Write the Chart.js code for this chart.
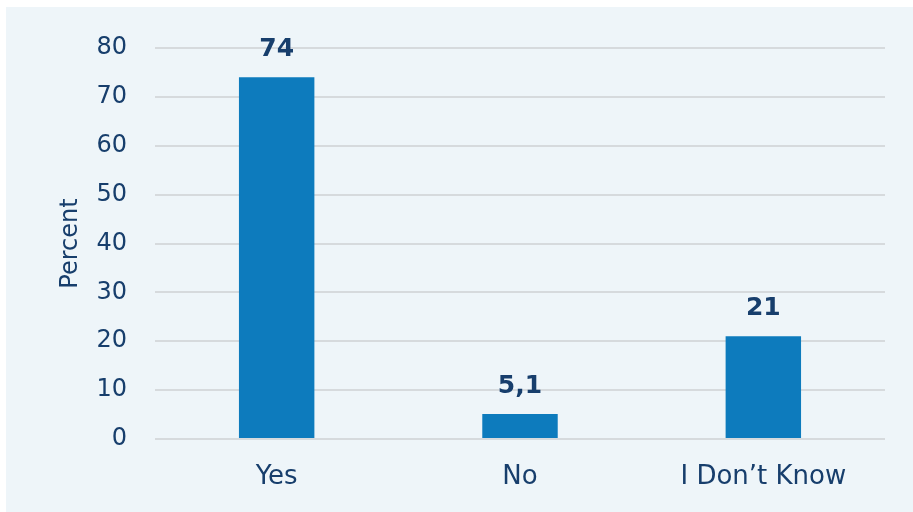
<!DOCTYPE html>
<html>
<head>
<meta charset="utf-8">
<script src="https://cdn.jsdelivr.net/npm/chart.js@4/dist/chart.umd.min.js"></script>
<style>
  html, body { margin: 0; padding: 0; background: #ffffff; }
  #wrap { position: relative; width: 913px; height: 512px; }
</style>
</head>
<body>
<div id="wrap"><canvas id="c" width="913" height="512"></canvas></div>
<script>
const categories = ['Yes', 'No', 'I Don\u2019t Know'];
const percentValues = [74, 5.1, 21];
const yTicks = [0, 10, 20, 30, 40, 50, 60, 70, 80];

const navy = '#173e6c';
const barBlue = '#0d7bbd';

// Light panel behind the plot
const panelBackground = {
  id: 'panelBackground',
  beforeDraw(chart) {
    const ctx = chart.ctx;
    ctx.save();
    ctx.fillStyle = '#eef5f9';
    ctx.fillRect(6, 7, chart.width - 6, chart.height - 7);
    ctx.restore();
  }
};

// Bold value labels above each bar, using a decimal comma
const valueLabels = {
  id: 'valueLabels',
  afterDatasetsDraw(chart) {
    const ctx = chart.ctx;
    const meta = chart.getDatasetMeta(0);
    ctx.save();
    ctx.font = 'bold 25px "DejaVu Sans", Verdana, sans-serif';
    ctx.fillStyle = navy;
    ctx.textAlign = 'center';
    ctx.textBaseline = 'alphabetic';
    meta.data.forEach((bar, i) => {
      const text = String(percentValues[i]).replace('.', ',');
      ctx.fillText(text, bar.x, bar.y - 21);
    });
    ctx.restore();
  }
};

new Chart(document.getElementById('c'), {
  type: 'bar',
  data: {
    labels: categories,
    datasets: [{
      data: percentValues,
      backgroundColor: barBlue,
      borderWidth: 0,
      barPercentage: 0.31,
      categoryPercentage: 1.0
    }]
  },
  options: {
    responsive: false,
    animation: false,
    devicePixelRatio: 1,
    layout: { padding: { left: 0, top: 48, right: 28, bottom: 0 } },
    plugins: { legend: { display: false }, tooltip: { enabled: false } },
    scales: {
      x: {
        grid: { display: false, drawTicks: false },
        border: { display: false },
        ticks: {
          color: navy,
          padding: 23,
          font: { family: '"DejaVu Sans", Verdana, sans-serif', size: 26 }
        },
        afterFit(scale) { scale.height = 73; }
      },
      y: {
        min: 0,
        max: 80,
        afterBuildTicks(scale) { scale.ticks = yTicks.map(v => ({ value: v })); },
        grid: { color: '#d6dadd', lineWidth: 2, drawTicks: false },
        border: { display: false },
        ticks: {
          color: navy,
          padding: 28,
          font: { family: '"DejaVu Sans", Verdana, sans-serif', size: 24 }
        },
        title: {
          display: true,
          text: 'Percent',
          color: navy,
          padding: { top: 56, bottom: 0 },
          font: { family: '"DejaVu Sans", Verdana, sans-serif', size: 24 }
        },
        afterFit(scale) { scale.width = 155; }
      }
    }
  },
  plugins: [panelBackground, valueLabels]
});
</script>
</body>
</html>
